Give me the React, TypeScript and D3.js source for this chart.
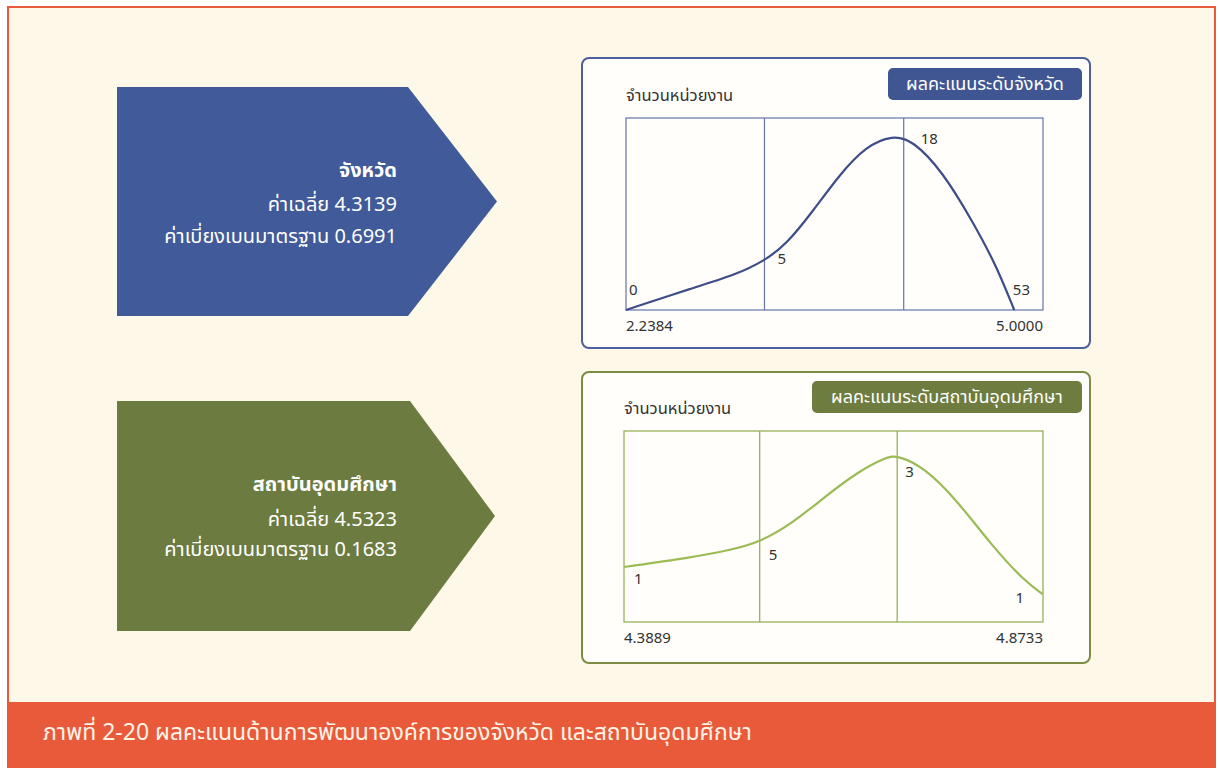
import React from "react";
import * as d3 from "d3";

// ---------- data ----------
const caption = "ภาพที่ 2-20 ผลคะแนนด้านการพัฒนาองค์การของจังหวัด และสถาบันอุดมศึกษา";
const yAxisLabel = "จำนวนหน่วยงาน";

const provTitle = "ผลคะแนนระดับจังหวัด";
const provName = "จังหวัด";
const provStats = ["ค่าเฉลี่ย 4.3139", "ค่าเบี่ยงเบนมาตรฐาน 0.6991"];
const provDomain = [2.2384, 5.0];
const provTickLabels = ["2.2384", "5.0000"];
const provDividers = [3.1553, 4.0776];
const provCurveX = [2.2384, 2.6803, 2.9675, 3.1553, 3.2988, 3.4756, 3.6523, 3.8291, 4.0058, 4.1356, 4.3345, 4.5333, 4.688, 4.8095];
const provCurveY = [0, 0.115, 0.184, 0.257, 0.34, 0.514, 0.705, 0.855, 0.91, 0.885, 0.722, 0.462, 0.236, 0];
const provCounts = ["0", "5", "18", "53"];
const provCountLevels = [0.099, 0.26, 0.885, 0.099];

const uniTitle = "ผลคะแนนระดับสถาบันอุดมศึกษา";
const uniName = "สถาบันอุดมศึกษา";
const uniStats = ["ค่าเฉลี่ย 4.5323", "ค่าเบี่ยงเบนมาตรฐาน 0.1683"];
const uniDomain = [4.3889, 4.8733];
const uniTickLabels = ["4.3889", "4.8733"];
const uniDividers = [4.5458, 4.7047];
const uniCurveX = [4.3889, 4.4659, 4.5161, 4.5458, 4.5817, 4.62, 4.6587, 4.6931, 4.7047, 4.7357, 4.7745, 4.8128, 4.8515, 4.8733];
const uniCurveY = [0.288, 0.337, 0.38, 0.419, 0.511, 0.651, 0.785, 0.865, 0.872, 0.812, 0.634, 0.407, 0.215, 0.145];
const uniCounts = ["1", "5", "3", "1"];
const uniCountLevels = [0.22, 0.346, 0.78, 0.12];

// ---------- style ----------
const FONT = "'Noto Sans Thai', 'Noto Sans', 'DejaVu Sans', sans-serif";
const CREAM = "#fdf8e7";
const ORANGE = "#e85a3a";
const BLUE = "#415a99";
const GREEN = "#6c7b40";

type ChartProps = {
  px: number; py: number; pw: number; ph: number;
  plotL: number; plotT: number; plotR: number; plotB: number;
  badgeX: number; badgeW: number; badgeY: number;
  border: string; badge: string; grid: string; line: string;
  title: string; domain: number[]; ticks: string[]; dividers: number[];
  cx: number[]; cy: number[]; counts: string[]; levels: number[];
  labelDx: number[]; labelAnchor: string[];
};

function Chart(p: ChartProps) {
  const x = d3.scaleLinear().domain(p.domain).range([p.plotL, p.plotR]);
  const y = d3.scaleLinear().domain([0, 1]).range([p.plotB, p.plotT]);
  const pts: [number, number][] = p.cx.map((v, i) => [v, p.cy[i]]);
  const line = d3
    .line<[number, number]>()
    .x((d) => x(d[0]))
    .y((d) => y(d[1]))
    .curve(d3.curveBasis);
  const bounds = [p.domain[0], ...p.dividers, p.domain[1]];
  return (
    <g>
      <rect x={p.px} y={p.py} width={p.pw} height={p.ph} rx={7} fill="#fffefa" stroke={p.border} strokeWidth={2} />
      <rect x={p.badgeX} y={p.badgeY} width={p.badgeW} height={32} rx={5} fill={p.badge} />
      <text x={p.badgeX + p.badgeW / 2} y={p.badgeY + 17} textAnchor="middle" dominantBaseline="middle" fill="#fff" fontSize={18} fontFamily={FONT}>
        {p.title}
      </text>
      <text x={p.plotL} y={p.plotT - 22} dominantBaseline="middle" fill="#333" fontSize={16.5} fontFamily={FONT}>
        {yAxisLabel}
      </text>
      <rect x={p.plotL} y={p.plotT} width={p.plotR - p.plotL} height={p.plotB - p.plotT} fill="none" stroke={p.grid} strokeWidth={1.2} />
      {p.dividers.map((d, i) => (
        <line key={i} x1={x(d)} x2={x(d)} y1={p.plotT} y2={p.plotB} stroke={p.grid} strokeWidth={1.2} />
      ))}
      <path d={line(pts) || ""} fill="none" stroke={p.line} strokeWidth={2.2} />
      {p.counts.map((c, i) => (
        <text key={i} x={x(bounds[i]) + p.labelDx[i]} y={y(p.levels[i])} textAnchor={p.labelAnchor[i]} dominantBaseline="middle" fill="#333" fontSize={15} fontFamily={FONT}>
          {c}
        </text>
      ))}
      <text x={p.plotL} y={p.plotB + 17} dominantBaseline="middle" fill="#333" fontSize={15} fontFamily={FONT}>
        {p.ticks[0]}
      </text>
      <text x={p.plotR} y={p.plotB + 17} textAnchor="end" dominantBaseline="middle" fill="#333" fontSize={15} fontFamily={FONT}>
        {p.ticks[1]}
      </text>
    </g>
  );
}

function Arrow(props: { top: number; bottom: number; bodyR: number; tipX: number; fill: string; name: string; stats: string[]; textY: number[] }) {
  const { top, bottom, bodyR, tipX, fill } = props;
  const mid = (top + bottom) / 2;
  const pts = [[117, top], [bodyR, top], [tipX, mid], [bodyR, bottom], [117, bottom]]
    .map((d) => d.join(","))
    .join(" ");
  return (
    <g>
      <polygon points={pts} fill={fill} />
      <text x={397} y={props.textY[0]} textAnchor="end" dominantBaseline="middle" fill="#fff" fontSize={20} fontWeight="bold" fontFamily={FONT}>
        {props.name}
      </text>
      {props.stats.map((s, i) => (
        <text key={i} x={397} y={props.textY[i + 1]} textAnchor="end" dominantBaseline="middle" fill="#fff" fontSize={20} fontFamily={FONT}>
          {s}
        </text>
      ))}
    </g>
  );
}

export default function App() {
  return (
    <svg width={1219} height={768} style={{ position: "absolute", left: 0, top: 0 }}>
      <rect x={0} y={0} width={1219} height={768} fill="#ffffff" />
      <rect x={8} y={7} width={1207} height={760} fill={CREAM} stroke={ORANGE} strokeWidth={2} />
      <rect x={7} y={702} width={1209} height={66} fill={ORANGE} />
      <text x={43} y={734} dominantBaseline="middle" fill="#fff4e8" fontSize={23} fontFamily={FONT}>
        {caption}
      </text>

      <Arrow top={87} bottom={316} bodyR={408} tipX={497} fill={BLUE} name={provName} stats={provStats} textY={[171, 205, 237]} />
      <Arrow top={401} bottom={631} bodyR={410} tipX={495} fill={GREEN} name={uniName} stats={uniStats} textY={[485, 520, 550]} />

      <Chart
        px={582} py={58} pw={508} ph={290}
        plotL={626} plotT={118} plotR={1043} plotB={310}
        badgeX={888} badgeW={194} badgeY={68}
        border="#4d5f9c" badge="#3f5693" grid="#6474aa" line="#3e4d8a"
        title={provTitle} domain={provDomain} ticks={provTickLabels} dividers={provDividers}
        cx={provCurveX} cy={provCurveY} counts={provCounts} levels={provCountLevels}
        labelDx={[3, 13, 17, -13]} labelAnchor={["start", "start", "start", "end"]}
      />
      <Chart
        px={582} py={372} pw={508} ph={291}
        plotL={624} plotT={431} plotR={1043} plotB={622}
        badgeX={812} badgeW={270} badgeY={381}
        border="#7d8c44" badge="#6e7d3f" grid="#8eab4f" line="#9bbb55"
        title={uniTitle} domain={uniDomain} ticks={uniTickLabels} dividers={uniDividers}
        cx={uniCurveX} cy={uniCurveY} counts={uniCounts} levels={uniCountLevels}
        labelDx={[10, 9, 8, -19]} labelAnchor={["start", "start", "start", "end"]}
      />
    </svg>
  );
}
